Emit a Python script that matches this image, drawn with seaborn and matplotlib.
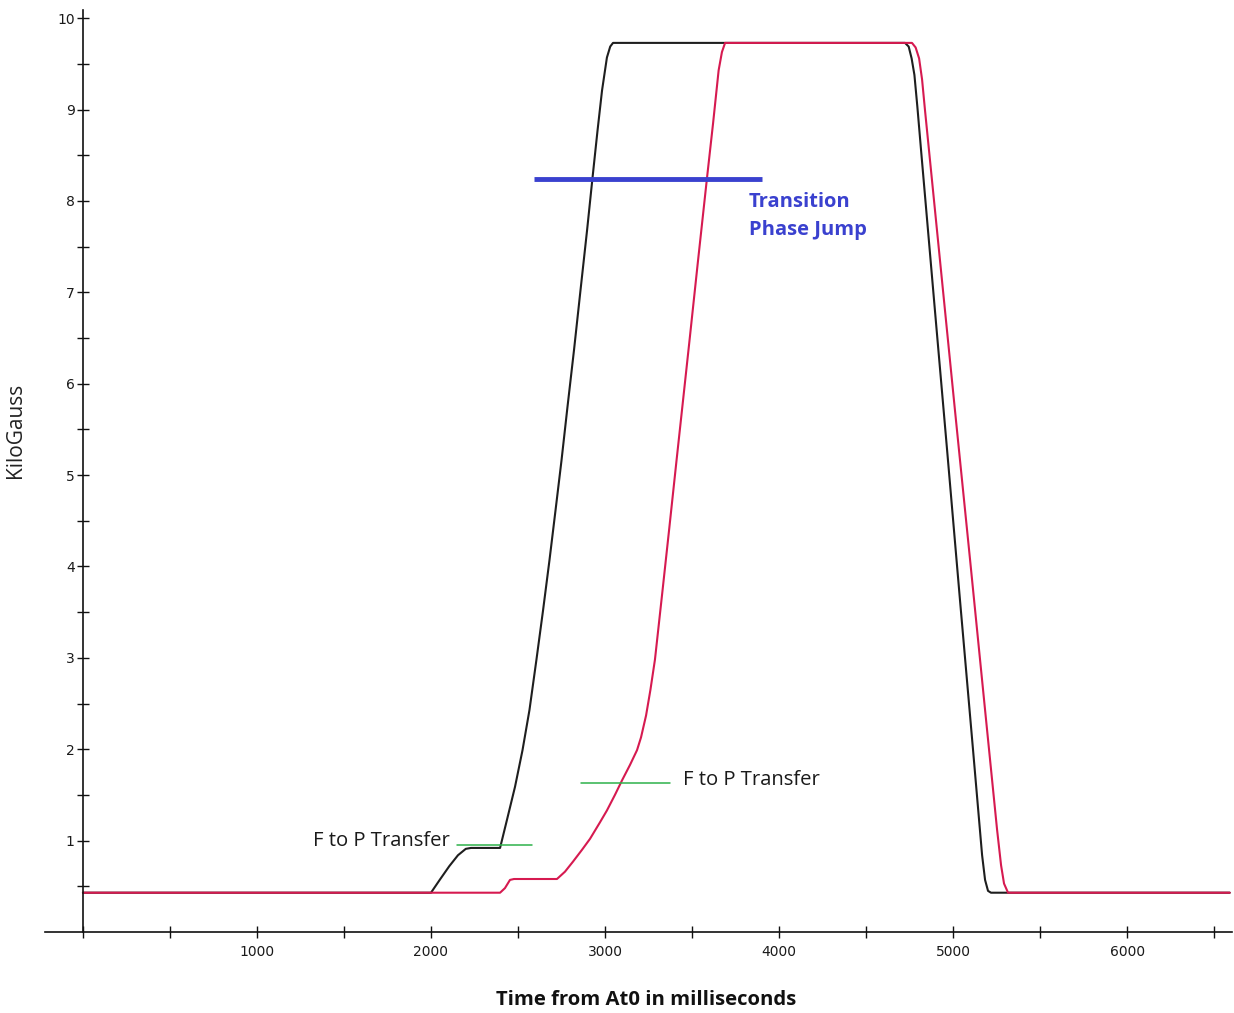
import matplotlib
matplotlib.use("Agg")
import matplotlib.pyplot as plt
import seaborn as sns
import pandas as pd
import numpy as np

# Dipole field ramp, two cycles (time in ms, field in kG)
t_cycle_a = [0, 2000, 2050, 2105, 2155, 2200, 2230, 2397, 2437, 2483, 2526, 2566,
             2606, 2644, 2681, 2716, 2750, 2784, 2822, 2859, 2897, 2928, 2957,
             2983, 3011, 3030, 3046, 4724, 4745, 4762, 4778, 4795, 4816, 4891,
             4966, 5040, 5115, 5167, 5184, 5201, 5218, 6590]
b_cycle_a = [0.43, 0.43, 0.57, 0.72, 0.84, 0.91, 0.92, 0.92, 1.23, 1.59, 1.99, 2.43,
             2.98, 3.52, 4.07, 4.62, 5.16, 5.74, 6.37, 7.02, 7.68, 8.25, 8.77,
             9.21, 9.57, 9.69, 9.73, 9.73, 9.69, 9.56, 9.38, 9.03, 8.56, 6.91,
             5.27, 3.63, 1.99, 0.84, 0.57, 0.45, 0.43, 0.43]

t_cycle_b = [0, 2397, 2425, 2454, 2477, 2724, 2770, 2816, 2868, 2914, 2971, 3011,
             3057, 3098, 3144, 3184, 3207, 3236, 3261, 3287, 3329, 3370, 3411,
             3444, 3486, 3533, 3586, 3621, 3653, 3672, 3690, 4764, 4785, 4805,
             4822, 4839, 4925, 5011, 5098, 5184, 5253, 5276, 5293, 5316, 6590]
b_cycle_b = [0.43, 0.43, 0.48, 0.57, 0.58, 0.58, 0.66, 0.77, 0.90, 1.02, 1.20, 1.33,
             1.50, 1.66, 1.83, 1.99, 2.13, 2.37, 2.65, 2.98, 3.71, 4.43, 5.16,
             5.74, 6.48, 7.32, 8.25, 8.85, 9.43, 9.63, 9.73, 9.73, 9.68, 9.56,
             9.33, 8.99, 7.35, 5.71, 4.07, 2.43, 1.12, 0.73, 0.53, 0.43, 0.43]

# Annotation markers
transfer_a_x = [2150, 2580]
transfer_a_y = 0.95
transfer_b_x = [2862, 3374]
transfer_b_y = 1.63
jump_x = [2592, 3902]
jump_y = 8.24

x_ticks_major = [1000, 2000, 3000, 4000, 5000, 6000]
y_ticks_major = [1, 2, 3, 4, 5, 6, 7, 8, 9, 10]

sns.set_style("white")
plt.rcParams["font.family"] = ["DejaVu Sans"]

df = pd.concat([
    pd.DataFrame({"t": t_cycle_a, "B": b_cycle_a, "cycle": "a"}),
    pd.DataFrame({"t": t_cycle_b, "B": b_cycle_b, "cycle": "b"}),
])

fig = plt.figure(figsize=(12.34, 10.13), dpi=100)
ax = fig.add_axes([45 / 1234, 1 - 932 / 1013, (1232 - 45) / 1234, (932 - 10) / 1013])

sns.lineplot(data=df, x="t", y="B", hue="cycle", palette={"a": "#1e1e1e", "b": "#d61a50"},
             estimator=None, sort=False, linewidth=1.5, legend=False, ax=ax)

ax.set_xlim(-218, 6603)
ax.set_ylim(0, 10.09)

# green transfer markers and blue phase-jump bar
ax.plot(transfer_a_x, [transfer_a_y] * 2, color="#2eb24a", lw=1.1)
ax.plot(transfer_b_x, [transfer_b_y] * 2, color="#2eb24a", lw=1.1)
ax.plot(jump_x, [jump_y] * 2, color="#3a41cf", lw=3.5, solid_capstyle="butt")

ax.text(2110, 1.00, "F to P Transfer", ha="right", va="center", fontsize=14.6,
        family="Open Sans", color="#1a1a1a")
ax.text(3450, 1.66, "F to P Transfer", ha="left", va="center", fontsize=14.6,
        family="Open Sans", color="#1a1a1a")
ax.text(3828, 7.99, "Transition", ha="left", va="center", fontsize=14.5,
        family="Open Sans", fontweight="bold", color="#3a41cf")
ax.text(3828, 7.68, "Phase Jump", ha="left", va="center", fontsize=14.5,
        family="Open Sans", fontweight="bold", color="#3a41cf")

# axes drawn through the origin
for s in ["top", "right"]:
    ax.spines[s].set_visible(False)
ax.spines["left"].set_position(("data", 0))
ax.spines["bottom"].set_position(("data", 0))
for s in ["left", "bottom"]:
    ax.spines[s].set_color("#111111")
    ax.spines[s].set_linewidth(1.2)

xt = np.arange(0, 6501, 500)
yt = np.arange(0.5, 10.01, 0.5)
ax.set_xticks(xt)
ax.set_xticklabels([str(v) if v in x_ticks_major else "" for v in xt])
ax.set_yticks(yt)
ax.set_yticklabels([str(int(v)) if v in y_ticks_major else "" for v in yt])
ax.tick_params(axis="both", which="major", bottom=True, left=True, direction="inout",
               length=8, width=1, color="#111111", labelsize=10, labelcolor="#1a1a1a")
ax.tick_params(axis="x", pad=5)
ax.tick_params(axis="y", pad=2)
ax.set_xlabel("")
ax.set_ylabel("")

fig.text(646 / 1234, 1 - 1000 / 1013, "Time from At0 in milliseconds", ha="center",
         va="center", fontsize=14.6, family="Open Sans", fontweight="bold", color="#111111")
fig.text(16 / 1234, 1 - 430 / 1013, "KiloGauss", ha="center", va="center", rotation=90,
         fontsize=15, family="Open Sans", color="#222222")

fig.savefig("out.png", dpi=100, facecolor="white")
